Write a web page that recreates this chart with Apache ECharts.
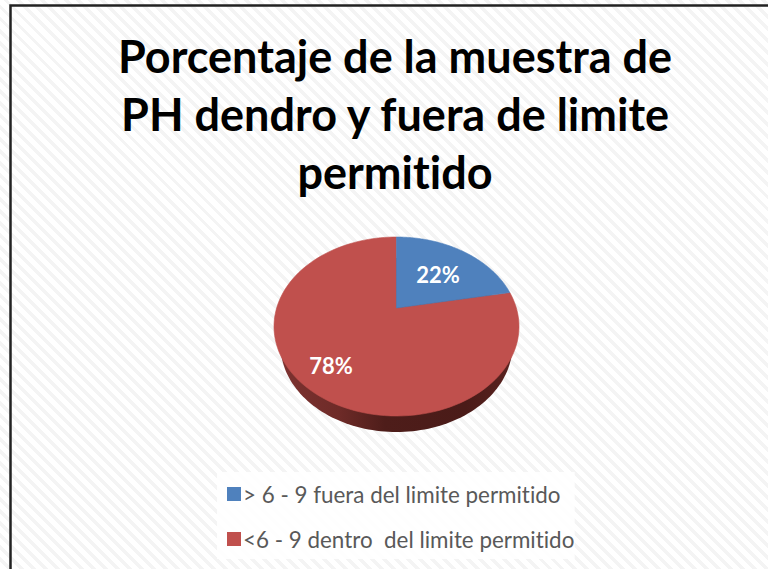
<!DOCTYPE html>
<html><head><meta charset="utf-8">
<style>
html,body{margin:0;padding:0;background:#fff}
#c{width:768px;height:569px;background:repeating-linear-gradient(45deg,#ffffff 0,#ffffff 5px,#f4f4f4 5px,#f4f4f4 8.5px)}
text{font-variant-ligatures:none;font-feature-settings:"liga" 0,"clig" 0}
</style>
<script src="https://cdn.jsdelivr.net/npm/echarts@6/dist/echarts.min.js"></script>
</head><body><div id="c"></div>
<script>
var titleLines = ['Porcentaje de la muestra de', 'PH dendro y fuera de limite', 'permitido'];
var categories = ['> 6 - 9 fuera del limite permitido', '<6 - 9 dentro  del limite permitido'];
var values = [22, 78];
var colors = ['#4f81bd', '#c0504d'];

var cx = 396.5, cy = 326.5, rx = 122.5, ry = 89.5, k = 0.207;
function proj(frac) {
  var a = frac * 2 * Math.PI, x = Math.sin(a), y = Math.cos(a), d = 1 + k * y;
  return [cx + rx * x * Math.sqrt(1 - k * k) / d, cy - ry * (y + k) / d];
}
var apex = [cx, cy - ry * k];
var total = values.reduce(function (a, b) { return a + b; }, 0);
var starts = values.map(function (v, i) {
  return values.slice(0, i).reduce(function (a, b) { return a + b; }, 0) / total;
});
function wallPoints() {
  var pts = [];
  for (var i = 0; i < 360; i += 2) {
    var t = Math.PI * i / 180;
    pts.push([cx + 116 * Math.cos(t), 345 + 87 * Math.sin(t)]);
  }
  return pts;
}
var labelPos = [[438, 274], [331, 365]];
function sliceSeries(idx) {
  return {
    type: 'custom', name: categories[idx], coordinateSystem: 'none',
    itemStyle: { color: colors[idx] },
    data: [[values[idx]]],
    z: 3,
    renderItem: function (params, api) {
      var frac = api.value(0) / total, pts = [apex], n = 120, children = [];
      for (var i = 0; i <= n; i++) pts.push(proj(starts[idx] + frac * i / n));
      if (idx === 1) {
        children.push({ type: 'polygon', z2: 1, shape: { points: wallPoints() }, style: {
          fill: { type: 'linear', x: 0, y: 0, x2: 1, y2: 0, colorStops: [
            { offset: 0, color: '#7d3230' }, { offset: 0.25, color: '#6e2b28' }, { offset: 0.45, color: '#4e1d1a' },
            { offset: 0.8, color: '#4a1b18' }, { offset: 1, color: '#5a2320' }] } } });
      }
      children.push({ type: 'polygon', z2: idx === 1 ? 2 : 3, shape: { points: pts }, style: { fill: colors[idx], stroke: colors[idx], lineWidth: 0.6 } });
      children.push({ type: 'text', z2: 4, style: {
        x: labelPos[idx][0], y: labelPos[idx][1], text: Math.round(api.value(0)) + '%',
        fill: '#fff', font: 'bold 22px Lato', align: 'center', verticalAlign: 'middle' } });
      return { type: 'group', children: children };
    }
  };
}

var chart = echarts.init(document.getElementById('c'), null, { renderer: 'svg' });
chart.setOption({
  animation: false,
  backgroundColor: 'transparent',
  graphic: [
    { type: 'rect', z: 0, shape: { x: 10.5, y: 5.5, width: 800, height: 600 }, style: { fill: 'none', stroke: '#222', lineWidth: 2.5 } }
  ],
  title: titleLines.map(function (t, i) {
    return { text: t, left: 390, top: 28 + i * 58, textAlign: 'center',
      textStyle: { fontFamily: 'Lato', fontWeight: 'bold', fontSize: 45, color: '#000' } };
  }),
  legend: {
    orient: 'vertical', left: 217, top: 472, padding: [11, 0, 9, 10], itemGap: 23,
    backgroundColor: 'rgba(255,255,255,0.85)',
    itemWidth: 14, itemHeight: 14, icon: 'rect',
    data: categories,
    textStyle: { fontFamily: 'Lato', fontSize: 22.4, color: '#595959', padding: [0, 0, 0, -3] }
  },
  series: [sliceSeries(1), sliceSeries(0)]
});
</script></body></html>
